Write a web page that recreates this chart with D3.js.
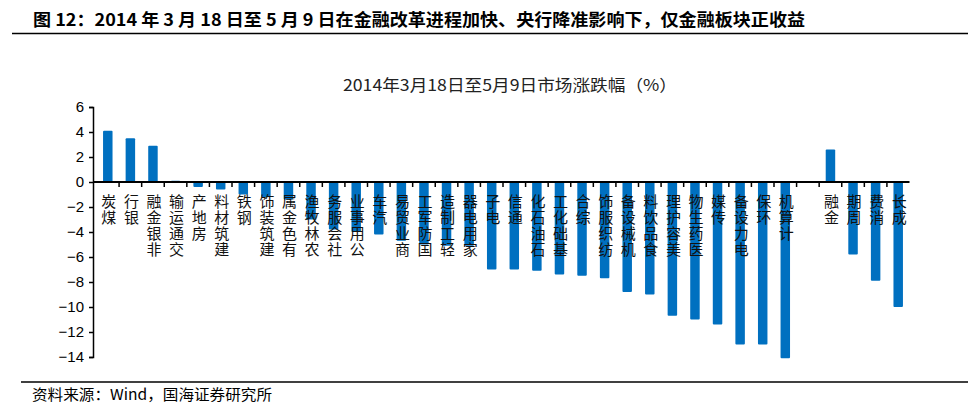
<!DOCTYPE html>
<html><head><meta charset="utf-8">
<script src="https://cdn.jsdelivr.net/npm/d3@7/dist/d3.min.js"></script>
<style>
html,body{margin:0;padding:0;background:#fff;}
svg{display:block;}
</style>
</head><body>
<svg id="chart" width="980" height="416"></svg>
<script>
const categories = ["煤炭","银行","非银金融","交通运输","房地产","建筑材料","钢铁","建筑装饰","有色金属","农林牧渔","社会服务","公用事业","汽车","商业贸易","国防军工","轻工制造","家用电器","电子","通信","石油石化","基础化工","综合","纺织服饰","机械设备","食品饮料","美容护理","医药生物","传媒","电力设备","环保","计算机"," ","金融","周期","消费","成长"];
const values = [4.1,3.5,2.9,0.1,-0.4,-0.6,-1.0,-1.2,-1.4,-3.0,-3.8,-4.0,-4.2,-4.7,-5.0,-5.1,-5.1,-7.0,-7.0,-7.1,-7.4,-7.5,-7.7,-8.8,-9.0,-10.7,-11.0,-11.4,-13.0,-13.0,-14.1,null,2.6,-5.8,-7.9,-10.0];
const yTicks = [6,4,2,0,-2,-4,-6,-8,-10,-12,-14];
const headerText = "图 12：2014 年 3 月 18 日至 5 月 9 日在金融改革进程加快、央行降准影响下，仅金融板块正收益";
const chartTitle = "2014年3月18日至5月9日市场涨跌幅（%）";
const sourceText = "资料来源：Wind，国海证券研究所";

const svg = d3.select("#chart");
const cjk = "'Noto Sans CJK SC','Noto Sans',sans-serif";

// header
svg.append("text").attr("x",33).attr("y",26).attr("font-family",cjk).attr("font-weight","bold")
  .attr("font-size",17).attr("fill","#000").attr("textLength",772).attr("lengthAdjust","spacingAndGlyphs").text(headerText);
svg.append("line").attr("x1",12).attr("x2",968).attr("y1",33.5).attr("y2",33.5).attr("stroke","#000").attr("stroke-width",1.5);

// chart title
svg.append("text").attr("x",510).attr("y",91).attr("text-anchor","middle").attr("font-family",cjk)
  .attr("font-size",16).attr("fill","#222").attr("textLength",334).attr("lengthAdjust","spacingAndGlyphs").text(chartTitle);

// scales
const y = d3.scaleLinear().domain([-14,6]).range([357,107]);
const x = d3.scaleBand().domain(categories).range([96.5,909.5]).paddingInner(0.58).paddingOuter(0.29);

// bars
const data = categories.map((c,i)=>({c, v: values[i]})).filter(d=>d.v!==null);
svg.append("g").selectAll("rect").data(data).join("rect")
  .attr("x",d=>x(d.c)).attr("width",x.bandwidth())
  .attr("y",d=>y(Math.max(0,d.v))).attr("height",d=>Math.abs(y(d.v)-y(0)))
  .attr("rx",1).attr("fill","#0070C0");

// y axis
const yAxis = d3.axisLeft(y).tickValues(yTicks).tickSize(4).tickPadding(5)
  .tickFormat(d=> d<0 ? "\u2212"+Math.abs(d) : String(d));
const gy = svg.append("g").attr("transform","translate(93,0)").call(yAxis);
gy.select(".domain").attr("stroke","#000").attr("stroke-width",1.5);
gy.selectAll(".tick line").attr("stroke","#000").attr("stroke-width",1.5);
gy.selectAll("text").attr("font-family","'Liberation Sans',Arial,sans-serif").attr("font-size",15).attr("fill","#000");

// x axis line at zero
const gap = (x.step()-x.bandwidth())/2;
svg.append("line").attr("x1",93).attr("x2",x.range()[1]).attr("y1",y(0)).attr("y2",y(0)).attr("stroke","#000").attr("stroke-width",2);
svg.append("g").selectAll("line").data(categories.slice(1)).join("line")
  .attr("x1",d=>x(d)-gap).attr("x2",d=>x(d)-gap).attr("y1",y(0)).attr("y2",y(0)+5)
  .attr("stroke","#000").attr("stroke-width",1.5);

// category labels: text rotated -90 (reads bottom-to-top), each glyph turned back upright; top-aligned
const fs = 15, pitch = 16;
const lg = svg.append("g").attr("font-family",cjk).attr("font-size",fs).attr("fill","#111");
categories.forEach(c=>{
  const label = c.trim();
  const n = Array.from(label).length;
  if (!n) return;
  const cx = x(c)+x.bandwidth()/2+1;
  const len = n*pitch;
  lg.append("g").attr("transform",`translate(${cx},193) rotate(-90)`)
    .append("text")
    .attr("x",-len + 0.12*fs)
    .attr("y",-fs/2)
    .attr("letter-spacing",(pitch-fs)+"px")
    .attr("rotate",Array(n).fill(90).join(" "))
    .text(label);
});

// footer
svg.append("line").attr("x1",21).attr("x2",968).attr("y1",382).attr("y2",382).attr("stroke","#000").attr("stroke-width",1.5);
svg.append("text").attr("x",32).attr("y",400).attr("font-family",cjk).attr("font-size",15).attr("fill","#000")
  .attr("textLength",240).attr("lengthAdjust","spacingAndGlyphs").text(sourceText);
</script>
</body></html>
